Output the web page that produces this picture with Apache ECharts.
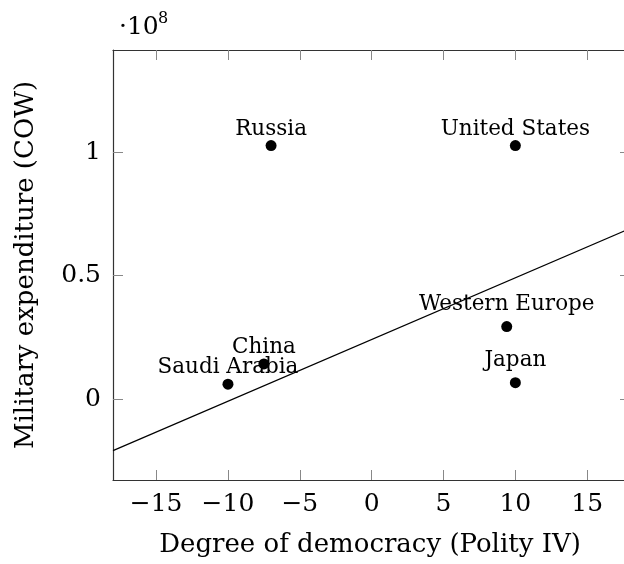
<!DOCTYPE html>
<html>
<head>
<meta charset="utf-8">
<script src="https://cdn.jsdelivr.net/npm/echarts@6/dist/echarts.min.js"></script>
<style>
  html, body { margin: 0; padding: 0; background: #fff; }
  #chart { width: 624px; height: 564px; }
</style>
</head>
<body>
<div id="chart"></div>
<script>
// data
const countries = ['Russia', 'United States', 'Western Europe', 'Japan', 'China', 'Saudi Arabia'];
const democracy = [-7, 10, 9.4, 10, -7.5, -10];
const expenditure = [1.027e8, 1.027e8, 0.294e8, 0.067e8, 0.143e8, 0.061e8];
const fitX = [-18, 18];
const fitY = [-0.208e8, 0.692e8];
const xTicks = [-15, -10, -5, 0, 5, 10, 15];
const yTicks = [0, 0.5e8, 1e8];

const FONT = 'DejaVu Serif';
// the original frame runs to x = 18, a little past the right edge of the picture
const X_MIN = -18, X_MAX = 17.56;
const Y_MIN = -0.327e8, Y_MAX = 1.414e8;

function renderChart() {
  const chart = echarts.init(document.getElementById('chart'));

  const points = countries.map((c, i) => ({
    name: c,
    value: [democracy[i], expenditure[i]],
    // labels with descenders sit a bit higher (node anchored at its bottom)
    label: { distance: /[gjpqy]/.test(c) ? 6 : 0 }
  }));

  const frameLine = { show: true, onZero: false, lineStyle: { color: '#333', width: 1.2 } };
  const tick = { show: true, inside: true, length: 10, lineStyle: { color: '#888', width: 1 } };

  const option = {
    animation: false,
    grid: { left: 113, top: 50, right: 0, bottom: 84 },
    xAxis: [
      {
        type: 'value', min: X_MIN, max: X_MAX,
        axisLine: frameLine,
        axisTick: Object.assign({ customValues: xTicks }, tick),
        axisLabel: {
          customValues: xTicks, margin: 12,
          fontFamily: FONT, fontSize: 25, color: '#000',
          formatter: v => String(v).replace('-', '\u2212')
        },
        splitLine: { show: false },
        name: 'Degree of democracy (Polity IV)',
        nameLocation: 'middle', nameGap: 52,
        nameTextStyle: { fontFamily: FONT, fontSize: 26, color: '#000', padding: [0, 0, 0, 3] }
      },
      {
        type: 'value', min: X_MIN, max: X_MAX, position: 'top',
        axisLine: frameLine,
        axisTick: Object.assign({ customValues: xTicks }, tick),
        axisLabel: { show: false },
        splitLine: { show: false }
      }
    ],
    yAxis: [
      {
        type: 'value', min: Y_MIN, max: Y_MAX,
        axisLine: frameLine,
        axisTick: Object.assign({ customValues: yTicks }, tick),
        axisLabel: {
          customValues: yTicks, margin: 12,
          fontFamily: FONT, fontSize: 25, color: '#000',
          formatter: v => String(+(v / 1e8).toFixed(2))
        },
        splitLine: { show: false },
        name: 'Military expenditure (COW)',
        nameLocation: 'middle', nameGap: 74,
        nameTextStyle: { fontFamily: FONT, fontSize: 26, color: '#000' }
      },
      {
        type: 'value', min: Y_MIN, max: Y_MAX, position: 'right',
        axisLine: { show: false, onZero: false },
        axisTick: Object.assign({}, tick, { customValues: yTicks, length: 4 }),
        axisLabel: { show: false },
        splitLine: { show: false }
      }
    ],
    graphic: [
      { type: 'text', left: 119, top: 15, style: { text: '\u00b710', font: '25px "DejaVu Serif"', fill: '#000' } },
      { type: 'text', left: 158, top: 11, style: { text: '8', font: '16px "DejaVu Serif"', fill: '#000' } }
    ],
    series: [
      {
        type: 'line',
        data: fitX.map((x, i) => [x, fitY[i]]),
        showSymbol: false, silent: true, clip: true,
        lineStyle: { color: '#000', width: 1.2 },
        z: 1
      },
      {
        type: 'scatter',
        data: points,
        symbolSize: 11,
        itemStyle: { color: '#000', opacity: 1 },
        label: {
          show: true, position: 'top',
          formatter: p => p.name,
          fontFamily: FONT, fontSize: 21.5, color: '#000'
        },
        z: 2
      }
    ]
  };

  chart.setOption(option);
}

document.addEventListener('DOMContentLoaded', renderChart);
</script>
</body>
</html>
